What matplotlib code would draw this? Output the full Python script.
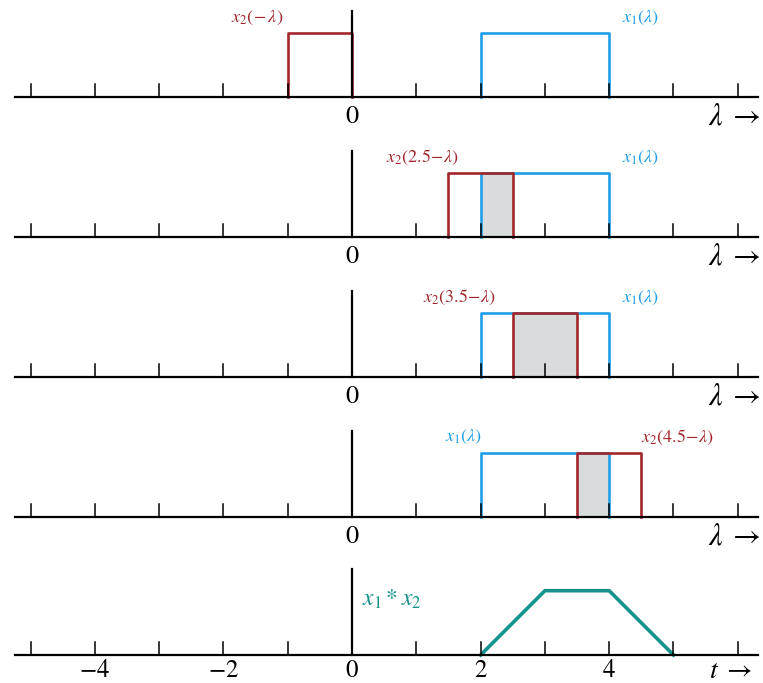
import matplotlib.pyplot as plt

plt.rcParams['mathtext.fontset'] = 'stix'
plt.rcParams['font.family'] = 'STIXGeneral'

# dados
x1_inicio, x1_fim = 2, 4
deslocamentos = [0, 2.5, 3.5, 4.5]          # t de cada painel
rotulos_x2 = [r'$x_2(\!-\lambda)$', r'$x_2(2.5\!-\!\lambda)$',
              r'$x_2(3.5\!-\!\lambda)$', r'$x_2(4.5\!-\!\lambda)$']
conv_t = [2, 3, 4, 5]
conv_y = [0, 1, 1, 0]
ticks = list(range(-5, 7))
ticks_rotulados = [-4, -2, 0, 2, 4]

cor_x1 = '#1f9ee8'
cor_x2 = '#a3262a'
cor_conv = '#14928b'
cor_area = '#d9dcdd'

W, H = 763, 683
escala = 64.3        # pixels por unidade
x0_px = 352
xlim = (-x0_px / escala, (W - x0_px) / escala)

fig = plt.figure(figsize=(W / 100, H / 100), dpi=100)


def eixo(topo, base, fundo):
    ax = fig.add_axes([0, 1 - fundo / H, 1, (fundo - topo) / H])
    ax.set_xlim(*xlim)
    ax.set_ylim(-(fundo - base) / escala, (base - topo) / escala)
    ax.axis('off')
    ax.plot([(15 - x0_px) / escala, (758 - x0_px) / escala], [0, 0], color='black', lw=1.6, zorder=5)
    for t in ticks:
        if t != 0:
            ax.plot([t, t], [0, 0.2], color='black', lw=1.1, zorder=5)
    ax.plot([0, 0], [0, 1.33], color='black', lw=1.6, zorder=5)
    return ax


for i, t in enumerate(deslocamentos):
    topo = 140 * i
    ax = eixo(topo, topo + 97, topo + 140)
    a, b = t - 1, t
    # area sobreposta
    lo, hi = max(a, x1_inicio), min(b, x1_fim)
    if hi > lo:
        ax.fill_between([lo, hi], 0, 1, color=cor_area, lw=0, zorder=1)
    ax.plot([x1_inicio, x1_inicio, x1_fim, x1_fim], [0, 1, 1, 0], color=cor_x1, lw=1.9, zorder=2)
    ax.plot([a, a, b, b], [0, 1, 1, 0], color=cor_x2, lw=1.9, zorder=3)
    ax.text(0, -0.12, '0', ha='center', va='top', fontsize=19)
    ax.text(6.36, -0.1, r'$\lambda\;\rightarrow$', ha='right', va='top', fontsize=22)
    # rotulos
    if i < 3:
        ax.text(4.2, 1.23, r'$x_1(\lambda)$', color=cor_x1, fontsize=13, ha='left', va='center')
        pos_x2 = [-1.07, 1.66, 2.24][i]
        ax.text(pos_x2, 1.23, rotulos_x2[i], color=cor_x2, fontsize=13, ha='right', va='center')
    else:
        ax.text(1.45, 1.24, r'$x_1(\lambda)$', color=cor_x1, fontsize=13, ha='left', va='center')
        ax.text(4.5, 1.24, rotulos_x2[i], color=cor_x2, fontsize=13, ha='left', va='center')

# painel da convolucao
ax = eixo(560, 655, 683)
ax.plot(conv_t, conv_y, color=cor_conv, lw=2.6, zorder=3, solid_joinstyle='miter')
ax.text(0.15, 0.86, r'$x_1 * x_2$', color=cor_conv, fontsize=17, ha='left', va='center')
for t in ticks_rotulados:
    ax.text(t, -0.06, r'$-%d$' % abs(t) if t < 0 else str(t), ha='center', va='top', fontsize=18)
ax.text(6.22, -0.06, r'$t\;\rightarrow$', ha='right', va='top', fontsize=20)

fig.savefig('out.png', dpi=100)
